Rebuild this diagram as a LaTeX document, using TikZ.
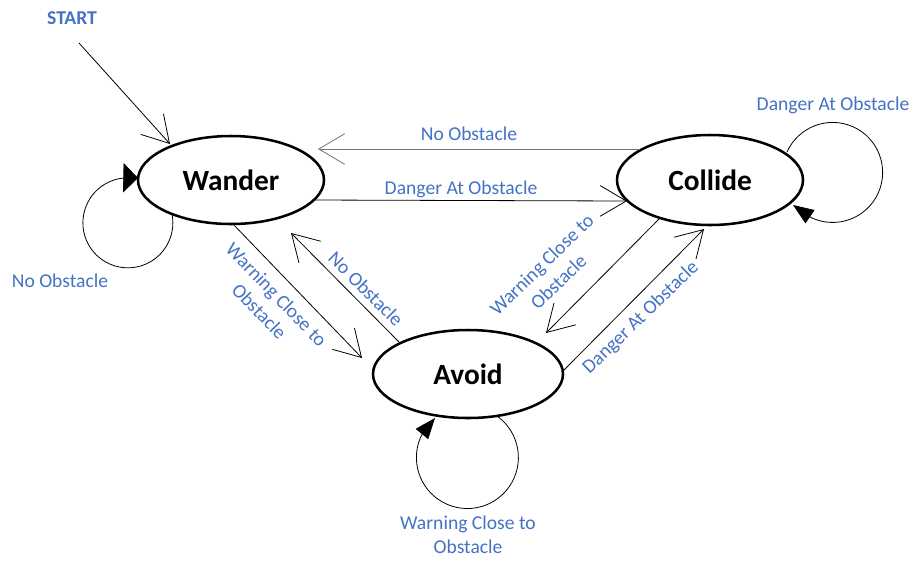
\documentclass[tikz,border=0pt]{standalone}
\usepackage{fontspec}
\setmainfont{Carlito}
\usetikzlibrary{shapes.geometric,arrows.meta,calc}
\definecolor{lblue}{HTML}{4472C4}
\begin{document}
\begin{tikzpicture}[x=0.75pt,y=-0.75pt,
  state/.style={ellipse,draw,line width=1.9pt,inner sep=0pt,font=\fontsize{22}{26}\selectfont\bfseries},
  lbl/.style={text=lblue,font=\fontsize{14.7}{18}\selectfont,inner sep=0pt,align=center},
  conn/.style={line width=0.6pt,-{Straight Barb[length=19.5pt,width=23pt,line width=0.6pt]}},
  loopc/.style={line width=0.6pt},
  bigtri/.style={-{Triangle[length=11pt,width=22pt]}},
  smalltri/.style={-{Triangle[length=15.5pt,width=12pt]}},
]
\useasboundingbox (0,0) rectangle (923,569);
% states
\node[state,minimum width=139.5pt,minimum height=66pt] (W) at (231,180) {Wander};
\node[state,minimum width=139.5pt,minimum height=67.5pt] (C) at (710,180) {Collide};
\node[state,minimum width=142.5pt,minimum height=66pt] (A) at (468,374) {Avoid};
\node[lbl,font=\fontsize{14.7}{18}\selectfont\bfseries] (S) at (72,18) {START};
% start arrow
\draw[conn] ($(S.center)+(7,25)$) -- ($(W.center)+(-61,-36)$);
% transitions
\draw[conn,draw=black!55] ($(C.center)+(-70,-31)$) -- ($(W.center)+(87,-31)$);
\draw[conn] ($(W.center)+(82,20)$) -- ($(C.center)+(-83,21)$);
\draw[conn] ($(W.center)+(1,43)$) -- ($(A.center)+(-106,-16)$);
\draw[conn] ($(A.center)+(-69,-32)$) -- ($(W.center)+(60,53)$);
\draw[conn] ($(C.center)+(-50,38)$) -- ($(A.center)+(78,-41)$);
\draw[conn] ($(A.center)+(94,-2)$) -- ($(C.center)+(-6,49)$);
% self loops
\draw[loopc,bigtri] ($(W.center)+(-59,34)$) arc[start angle=-11.3,end angle=270,radius=45] -- ($(W.center)+(-93,-2)$);
\draw[loopc,smalltri] ($(C.center)+(77,-28)$) arc[start angle=204.1,end angle=475,radius=50] -- ($(C.center)+(83,25)$);
\draw[loopc,smalltri] ($(A.center)+(29,42)$) arc[start angle=-54.5,end angle=208.5,radius=51] -- ($(A.center)+(-33,44)$);
% labels
\node[lbl] (l1) at (469,134) {No Obstacle};
\node[lbl] (l2) at (461,189) {Danger At Obstacle};
\node[lbl,rotate=-46] (l3) at (268,303) {Warning Close to\\Obstacle};
\node[lbl,rotate=-45] (l4) at (366,289) {No Obstacle};
\node[lbl,rotate=44] (l5) at (550,273) {Warning Close to\\Obstacle};
\node[lbl,rotate=44] (l6) at (641,318) {Danger At Obstacle};
\node[lbl] (l7) at (60,281) {No Obstacle};
\node[lbl] (l8) at (833,105) {Danger At Obstacle};
\node[lbl] (l9) at (468,535) {Warning Close to\\Obstacle};
\end{tikzpicture}
\end{document}
